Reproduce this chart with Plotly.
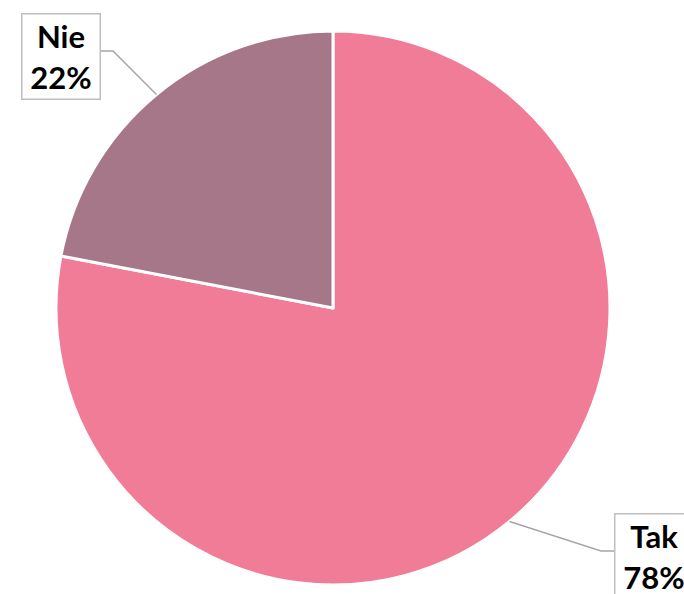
import math
import plotly.graph_objects as go

# Survey answers
labels = ["Tak", "Nie"]
values = [78, 22]
colors = ["#F07C97", "#A67789"]

W, H = 684, 594
# pie geometry in pixels
cx, cy, r = 333, 308, 277


def px(x):
    return x / W


def py(y):
    return 1 - y / H


fig = go.Figure(
    go.Pie(
        labels=labels,
        values=values,
        sort=False,
        direction="clockwise",
        rotation=0,
        marker=dict(colors=colors, line=dict(color="white", width=3)),
        textinfo="none",
        hoverinfo="label+percent",
        domain=dict(x=[px(cx - r), px(cx + r)], y=[py(cy + r), py(cy - r)]),
        showlegend=False,
    )
)

# label boxes and leader lines: box anchor, elbow point and box edge
label_layout = {
    "Nie": dict(bx=101, by=13, xanchor="right", ex=113, ey=51, edge=101),
    "Tak": dict(bx=614, by=513, xanchor="left", ex=601, ey=551, edge=614),
}

total = sum(values)
start = 90.0  # 12 o'clock, going clockwise
shapes = []
annotations = []
for lab, val in zip(labels, values):
    sweep = 360.0 * val / total
    mid = math.radians(start - sweep / 2)
    start -= sweep
    sx = cx + r * math.cos(mid)
    sy = cy - r * math.sin(mid)
    L = label_layout[lab]
    path = f"M {px(sx)} {py(sy)} L {px(L['ex'])} {py(L['ey'])} L {px(L['edge'])} {py(L['ey'])}"
    shapes.append(dict(type="path", xref="paper", yref="paper", path=path,
                       line=dict(color="#A6A6A6", width=1.5)))
    pct = round(100 * val / total)
    annotations.append(dict(
        x=px(L["bx"]), y=py(L["by"]), xref="paper", yref="paper",
        xanchor=L["xanchor"], yanchor="top", showarrow=False,
        text=f"{lab}<br>{pct}%", align="center", valign="middle",
        width=73, height=80,
        font=dict(family="Lato", size=31, color="black", weight="bold"),
        bgcolor="white", bordercolor="#BFBFBF", borderwidth=1.5, borderpad=2,
    ))

fig.update_layout(
    width=W, height=H,
    margin=dict(l=0, r=0, t=0, b=0),
    paper_bgcolor="white",
    plot_bgcolor="white",
    shapes=shapes,
    annotations=annotations,
)

fig.write_html("out.html")
